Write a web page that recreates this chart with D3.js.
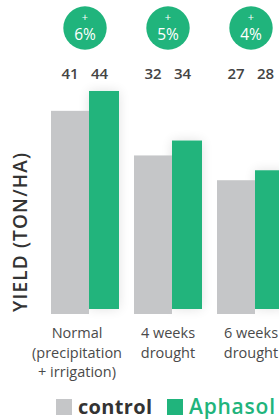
<!DOCTYPE html>
<html>
<head>
<meta charset="utf-8">
<script src="https://cdn.jsdelivr.net/npm/d3@7"></script>
<style>
  html, body { margin: 0; padding: 0; background: #fff; }
  svg { display: block; font-family: "Open Sans", "Noto Sans", sans-serif; }
</style>
</head>
<body>
<svg id="chart"></svg>
<script>
// data
const categories = [["Normal", "(precipitation", "+ irrigation)"], ["4 weeks", "drought"], ["6 weeks", "drought"]];
const control = [41, 32, 27];
const aphasol = [44, 34, 28];
const gains = ["6%", "5%", "4%"];
const seriesNames = ["control", "Aphasol"];

const width = 279, height = 420;
const gray = "#c5c6c8", green = "#20b47c";

const svg = d3.select("#chart").attr("width", width).attr("height", height);

// soft shadow behind the green bars
const defs = svg.append("defs");
const f = defs.append("filter").attr("id", "shadow")
    .attr("x", "-50%").attr("y", "-20%").attr("width", "200%").attr("height", "140%");
f.append("feGaussianBlur").attr("in", "SourceAlpha").attr("stdDeviation", 6);
f.append("feComponentTransfer").append("feFuncA").attr("type", "linear").attr("slope", 0.12);
const m = f.append("feMerge");
m.append("feMergeNode");
m.append("feMergeNode").attr("in", "SourceGraphic");

const step = 83;
const x = d3.scaleBand().domain(d3.range(categories.length)).range([51, 51 + step * categories.length]);
const y = d3.scaleLinear().domain([0, 44]).range([314, 314 - 44 * 4.955]);

const ctrlW = 38, aphW = 30;

const groups = svg.selectAll("g.grp")
    .data(categories)
    .enter()
    .append("g")
    .attr("class", "grp")
    .attr("transform", (d, i) => "translate(" + x(i) + ",0)");

// aphasol bars (base sits 5px higher)
groups.append("rect")
    .attr("x", ctrlW)
    .attr("y", (d, i) => y(aphasol[i]) - 5)
    .attr("width", aphW)
    .attr("height", (d, i) => y(0) - y(aphasol[i]))
    .attr("fill", green)
    .attr("filter", "url(#shadow)");

groups.append("rect")
    .attr("x", 0)
    .attr("y", (d, i) => y(control[i]))
    .attr("width", ctrlW)
    .attr("height", (d, i) => y(0) - y(control[i]))
    .attr("fill", gray);

// value labels
groups.append("text")
    .attr("x", 19).attr("y", 79)
    .attr("text-anchor", "middle")
    .attr("font-size", 15).attr("font-weight", 600).attr("fill", "#444")
    .text((d, i) => control[i]);
groups.append("text")
    .attr("x", 48.5).attr("y", 79)
    .attr("text-anchor", "middle")
    .attr("font-size", 15).attr("font-weight", 600).attr("fill", "#444")
    .text((d, i) => aphasol[i]);

// gain badges
groups.append("circle")
    .attr("cx", 34).attr("cy", 28).attr("r", 21.7)
    .attr("fill", green);
const badge = groups.append("text")
    .attr("text-anchor", "middle")
    .attr("fill", "#fff");
badge.append("tspan")
    .attr("x", 34).attr("y", 20.5)
    .attr("font-size", 11)
    .text("+");
badge.append("tspan")
    .attr("x", 34).attr("y", 39.5)
    .attr("font-size", 15.5)
    .text((d, i) => gains[i]);

// category labels
groups.each(function(lines, i) {
    const t = d3.select(this).append("text")
        .attr("text-anchor", "middle")
        .attr("font-size", 14.5).attr("font-weight", 400).attr("fill", "#4a4a4a");
    lines.forEach((l, j) => {
        t.append("tspan")
            .attr("x", i === 0 ? 26 : 34)
            .attr("y", 338 + j * 19.5)
            .text(l);
    });
});

// y axis title
svg.append("text")
    .attr("transform", "translate(27,232.5) rotate(-90)")
    .attr("text-anchor", "middle")
    .attr("font-size", 19).attr("font-weight", 600).attr("fill", "#333")
    .attr("textLength", 159).attr("lengthAdjust", "spacing")
    .text("YIELD (TON/HA)");

// legend
const legend = svg.append("g");
legend.append("rect").attr("x", 56).attr("y", 399).attr("width", 16).attr("height", 16).attr("fill", gray);
legend.append("text").attr("x", 78).attr("y", 414)
    .attr("font-size", 20).attr("font-weight", 700).attr("fill", "#333")
    .attr("textLength", 74).attr("lengthAdjust", "spacing")
    .text(seriesNames[0]);
legend.append("rect").attr("x", 167).attr("y", 399).attr("width", 16).attr("height", 16).attr("fill", green);
legend.append("text").attr("x", 189).attr("y", 414)
    .attr("font-size", 21).attr("font-weight", 600).attr("fill", green)
    .attr("textLength", 86).attr("lengthAdjust", "spacing")
    .text(seriesNames[1]);
</script>
</body>
</html>
